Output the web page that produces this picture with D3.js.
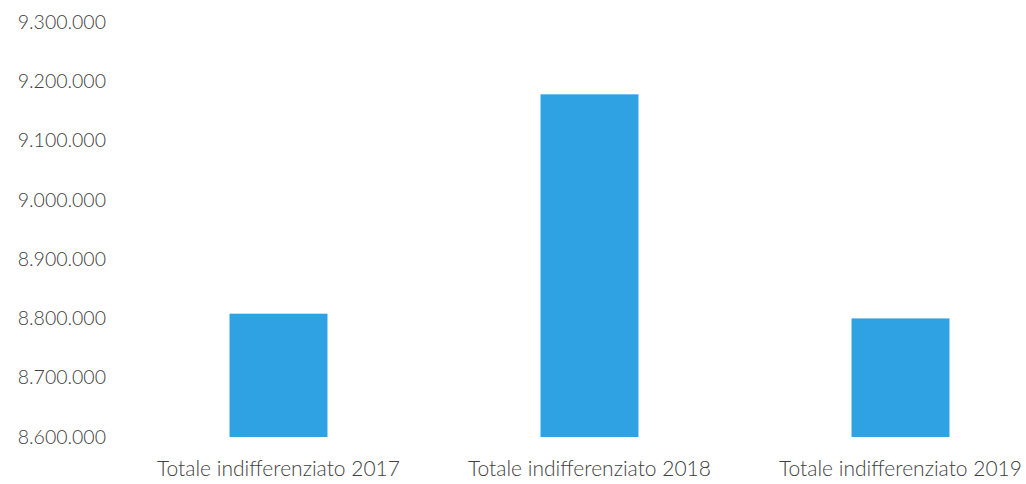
<!DOCTYPE html>
<html>
<head>
<meta charset="utf-8">
<script src="https://cdn.jsdelivr.net/npm/d3@7"></script>
<style>
  html, body { margin: 0; padding: 0; background: #fff; }
  svg { display: block; }
  text { font-family: Lato, "Open Sans", sans-serif; fill: #404040; }
</style>
</head>
<body>
<svg id="chart" width="1026" height="484"></svg>
<script>
const categories = ["Totale indifferenziato 2017", "Totale indifferenziato 2018", "Totale indifferenziato 2019"];
const values = [8808000, 9178000, 8800000];
const yTicks = [8600000, 8700000, 8800000, 8900000, 9000000, 9100000, 9200000, 9300000];

const svg = d3.select("#chart");

const locale = d3.formatLocale({ decimal: ",", thousands: ".", grouping: [3], currency: ["€", ""] });
const fmt = locale.format(",d");

const x = d3.scaleBand()
  .domain(categories)
  .range([123, 1056])
  .paddingInner(0.685)
  .paddingOuter(0.3425);

const y = d3.scaleLinear()
  .domain([8600000, 9300000])
  .range([437, 22]);

// bars
svg.append("g")
  .selectAll("rect")
  .data(categories)
  .join("rect")
  .attr("x", d => x(d))
  .attr("width", x.bandwidth())
  .attr("y", (d, i) => y(values[i]))
  .attr("height", (d, i) => y(8600000) - y(values[i]))
  .attr("fill", "#2fa2e4");

// y axis
const yAxis = svg.append("g")
  .attr("transform", "translate(106,0)")
  .call(d3.axisLeft(y).tickValues(yTicks).tickFormat(fmt).tickSize(0).tickPadding(0));
yAxis.select(".domain").remove();
yAxis.selectAll("text")
  .style("font-size", "19.5px")
  .style("font-family", "Lato, sans-serif")
  .style("font-weight", "300")
  .attr("fill", "#404040");

// x axis
const xAxis = svg.append("g")
  .attr("transform", "translate(0,476)")
  .call(d3.axisBottom(x).tickSize(0).tickPadding(0));
xAxis.select(".domain").remove();
xAxis.selectAll("text")
  .style("font-size", "21px")
  .style("font-family", "Lato, sans-serif")
  .style("font-weight", "300")
  .attr("fill", "#404040")
  .attr("dy", "0");
</script>
</body>
</html>
